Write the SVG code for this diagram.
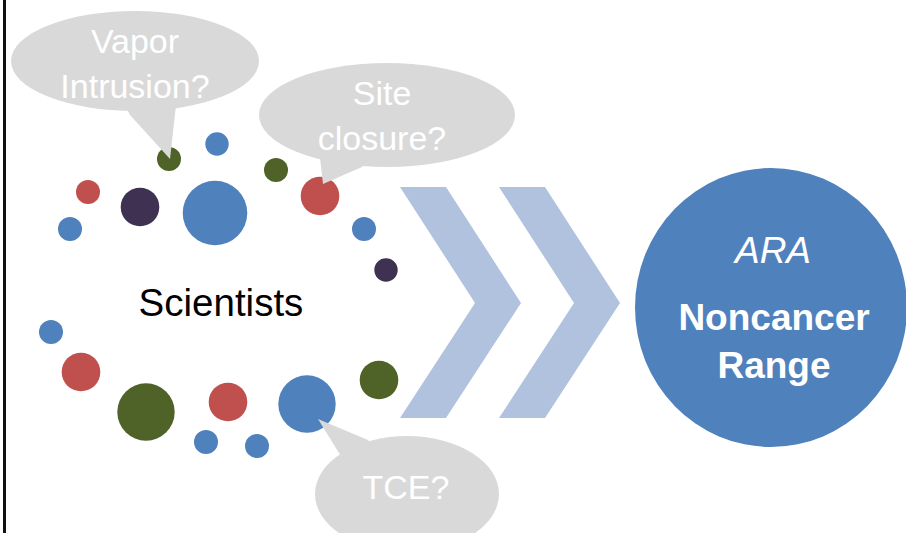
<svg xmlns="http://www.w3.org/2000/svg" width="906" height="533" viewBox="0 0 906 533">
<style>
.bub{fill:#d9d9d9}
.bt{font-family:"Liberation Sans",Arial,sans-serif;font-size:34px;fill:#ffffff;text-anchor:middle}
.b{fill:#4f81bd}.r{fill:#c0504d}.g{fill:#4f6228}.p{fill:#3f3151}
.chev{fill:#b0c2de}
</style>
<rect width="906" height="533" fill="#ffffff"/>
<line x1="4.5" y1="0" x2="4.5" y2="533" stroke="#111" stroke-width="3"/>
<g id="dots">
<circle class="g" cx="169" cy="159" r="12"/>
<circle class="b" cx="217" cy="144" r="11.7"/>
<circle class="g" cx="276" cy="170" r="12"/>
<circle class="r" cx="88" cy="192" r="12"/>
<circle class="p" cx="140" cy="207" r="19.3"/>
<circle class="b" cx="215" cy="213" r="32.3"/>
<circle class="r" cx="320" cy="196" r="19.3"/>
<circle class="b" cx="70" cy="229" r="12"/>
<circle class="b" cx="364" cy="229" r="12"/>
<circle class="p" cx="386" cy="270" r="11.7"/>
<circle class="b" cx="51" cy="332" r="12"/>
<circle class="r" cx="81" cy="372" r="19.3"/>
<circle class="g" cx="146" cy="412" r="28.7"/>
<circle class="r" cx="228" cy="402" r="19.3"/>
<circle class="b" cx="307" cy="404" r="28.7"/>
<circle class="g" cx="379" cy="380" r="19.3"/>
<circle class="b" cx="206" cy="442" r="12"/>
<circle class="b" cx="257" cy="446" r="12"/>
</g>
<g id="bubble-vapor">
<ellipse class="bub" cx="135" cy="61" rx="124" ry="50"/>
<path class="bub" d="M125,105 L130,115 L170,159 L176,105 Z"/>
<text class="bt" x="135" y="53">Vapor</text>
<text class="bt" x="135" y="98">Intrusion?</text>
</g>
<g id="bubble-site">
<ellipse class="bub" cx="387" cy="115" rx="128" ry="52"/>
<path class="bub" d="M318,150 L320,158 L323,184 L362,167 L370,155 Z"/>
<text class="bt" x="382" y="105">Site</text>
<text class="bt" x="382" y="150">closure?</text>
</g>
<g id="bubble-tce">
<ellipse class="bub" cx="407" cy="494" rx="92" ry="58"/>
<path class="bub" d="M345,460 L339,453 L318,419 L368,440 L375,448 Z"/>
<text class="bt" x="406" y="499">TCE?</text>
</g>
<g id="scientists">
<text x="221" y="316" font-family="'Liberation Sans',Arial,sans-serif" font-size="38.5" fill="#000" text-anchor="middle">Scientists</text>
</g>
<g id="connectors">
<polygon class="chev" points="400,187 446,187 521,303 446,418 400,418 475,303"/>
<polygon class="chev" points="499,187 545,187 620,303 545,418 499,418 574,303"/>
</g>
<g id="ara">
<ellipse cx="771" cy="307.5" rx="136" ry="139.5" fill="#4f81bd"/>
<text x="773" y="263" font-family="'Liberation Sans',Arial,sans-serif" font-size="37" font-style="italic" fill="#fff" text-anchor="middle">ARA</text>
<text x="774" y="330" font-family="'Liberation Sans',Arial,sans-serif" font-size="37" font-weight="bold" fill="#fff" text-anchor="middle">Noncancer</text>
<text x="774" y="378" font-family="'Liberation Sans',Arial,sans-serif" font-size="37" font-weight="bold" fill="#fff" text-anchor="middle">Range</text>
</g>
</svg>
